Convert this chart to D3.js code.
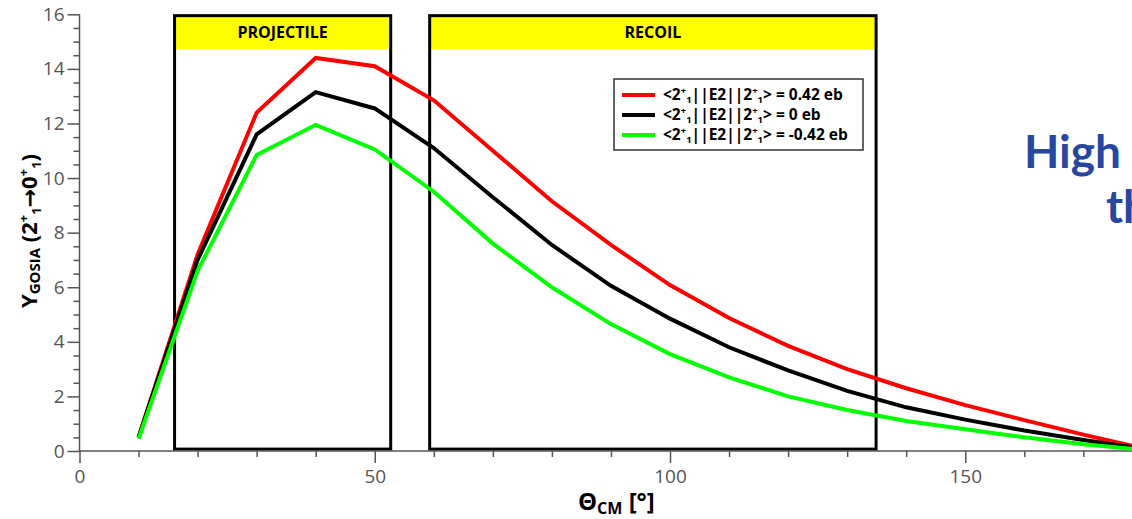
<!DOCTYPE html>
<html>
<head>
<meta charset="utf-8">
<script src="https://cdn.jsdelivr.net/npm/d3@7"></script>
<style>
  html, body { margin: 0; padding: 0; background: #fff; }
  svg { display: block; font-family: "Open Sans", "Noto Sans", sans-serif; }
</style>
</head>
<body>
<svg id="chart" width="1132" height="519"></svg>
<script>
// Scattering angle in the centre-of-mass frame (degrees)
const theta = [10, 20, 30, 40, 50, 60, 70, 80, 90, 100, 110, 120, 130, 140, 150, 160, 170, 180];

// GOSIA yields for the 2+1 -> 0+1 transition, one series per diagonal matrix element
const yieldPlus  = [0.5, 7.2, 12.4, 14.4, 14.1, 12.85, 11.0, 9.15, 7.55, 6.08, 4.87, 3.85, 3.0, 2.3, 1.68, 1.13, 0.6, 0.1];
const yieldZero  = [0.5, 7.0, 11.6, 13.15, 12.55, 11.1, 9.3, 7.55, 6.05, 4.85, 3.8, 2.95, 2.2, 1.6, 1.15, 0.75, 0.4, 0.08];
const yieldMinus = [0.45, 6.6, 10.85, 11.95, 11.05, 9.5, 7.6, 6.0, 4.65, 3.55, 2.7, 2.0, 1.5, 1.1, 0.8, 0.5, 0.25, 0.05];

const seriesLabels = ["0.42 eb", "0 eb", "-0.42 eb"];
const seriesColors = ["#ff0000", "#000000", "#00ff00"];

// Angular windows where the projectile / recoil is detected
const regionNames = ["PROJECTILE", "RECOIL"];
const regionFrom  = [16.1, 59.3];
const regionTo    = [52.7, 134.9];

const xTicks = [0, 50, 100, 150];
const yTicks = [0, 2, 4, 6, 8, 10, 12, 14, 16];

const svg = d3.select("#chart");

const x = d3.scaleLinear().domain([0, 180]).range([79.5, 1142.4]);
const y = d3.scaleLinear().domain([0, 16]).range([451, 14.3]);

const axisGrey = "#555";

// Region boxes with yellow title bands
const regionTop = 15.95, bandBottom = 14.72, regionBottom = 0.07;
regionNames.forEach((name, i) => {
  const x0 = x(regionFrom[i]), x1 = x(regionTo[i]);
  svg.append("rect")
    .attr("x", x0).attr("y", y(regionTop))
    .attr("width", x1 - x0).attr("height", y(bandBottom) - y(regionTop))
    .attr("fill", "#ffff00");
  svg.append("rect")
    .attr("x", x0).attr("y", y(regionTop))
    .attr("width", x1 - x0).attr("height", y(regionBottom) - y(regionTop))
    .attr("fill", "none").attr("stroke", "#000").attr("stroke-width", 3);
  svg.append("text")
    .attr("x", (x0 + x1) / 2).attr("y", (y(regionTop) + y(bandBottom)) / 2 + 6)
    .attr("text-anchor", "middle")
    .attr("font-size", 16).attr("font-weight", "bold")
    .text(name);
});

// Axes
const xAxis = svg.append("g").attr("transform", `translate(0,${y(0)})`)
  .call(d3.axisBottom(x).tickValues(xTicks).tickFormat(d3.format("d")).tickSize(12).tickPadding(7));
const xMinor = svg.append("g").attr("transform", `translate(0,${y(0)})`)
  .call(d3.axisBottom(x).tickValues(d3.range(10, 180, 10).filter(v => v % 50 !== 0)).tickSize(6).tickFormat(""));
const yAxis = svg.append("g").attr("transform", `translate(${x(0)},0)`)
  .call(d3.axisLeft(y).tickValues(yTicks).tickFormat(d3.format("d")).tickSize(12).tickPadding(3));
const yMinor = svg.append("g").attr("transform", `translate(${x(0)},0)`)
  .call(d3.axisLeft(y).tickValues(d3.range(0.5, 16, 0.5).filter(v => v % 2 !== 0)).tickSize(6).tickFormat(""));

[xAxis, xMinor, yAxis, yMinor].forEach(g => {
  g.select(".domain").attr("stroke", axisGrey).attr("stroke-width", 1.5);
  g.selectAll(".tick line").attr("stroke", axisGrey).attr("stroke-width", 1.5);
  g.selectAll(".tick text").attr("fill", axisGrey).attr("font-size", 19)
    .attr("font-family", "'Open Sans', 'Noto Sans', sans-serif");
});
xMinor.select(".domain").remove();
yMinor.select(".domain").remove();
xAxis.select(".domain").attr("d", `M${x(0)},0H${x(180)}`);
yAxis.select(".domain").attr("d", `M0,${y(16)}V${y(0)}`);
xAxis.selectAll(".tick line").attr("y1", 0);
yAxis.selectAll(".tick line").attr("x1", 0);

// Yield curves
const line = d3.line().x((d, i) => x(theta[i])).y(d => y(d));
[yieldPlus, yieldZero, yieldMinus].forEach((vals, i) => {
  svg.append("path")
    .datum(vals)
    .attr("d", line)
    .attr("fill", "none")
    .attr("stroke", seriesColors[i])
    .attr("stroke-width", 4)
    .attr("stroke-linejoin", "miter");
});

// Legend
const legend = svg.append("g");
legend.append("rect")
  .attr("x", 614).attr("y", 79).attr("width", 249).attr("height", 71)
  .attr("fill", "#fff").attr("stroke", "#333").attr("stroke-width", 1.5);
seriesLabels.forEach((lab, i) => {
  const cy = 95 + i * 20;
  legend.append("line")
    .attr("x1", 622).attr("x2", 655).attr("y1", cy).attr("y2", cy)
    .attr("stroke", seriesColors[i]).attr("stroke-width", 4);
  const t = legend.append("text")
    .attr("x", 663).attr("y", cy + 5)
    .attr("font-size", 15.5).attr("font-weight", "bold");
  t.append("tspan").text("<2");
  t.append("tspan").attr("font-size", 9.5).attr("dy", -6).text("+");
  t.append("tspan").attr("font-size", 9.5).attr("dy", 9).text("1");
  t.append("tspan").attr("dy", -3).text("||E2||2");
  t.append("tspan").attr("font-size", 9.5).attr("dy", -6).text("+");
  t.append("tspan").attr("font-size", 9.5).attr("dy", 9).text("1");
  t.append("tspan").attr("dy", -3).text("> = " + lab);
});

// Axis titles
const xt = svg.append("text")
  .attr("x", 578).attr("y", 510)
  .attr("font-size", 24).attr("font-weight", "bold");
xt.append("tspan").text("Θ");
xt.append("tspan").attr("font-size", 16).attr("dy", 4).text("CM");
xt.append("tspan").attr("dy", -4).text(" [°]");

const yt = svg.append("text")
  .attr("transform", "translate(37,231) rotate(-90)")
  .attr("text-anchor", "middle")
  .attr("font-size", 22).attr("font-weight", "bold");
yt.append("tspan").text("Y");
yt.append("tspan").attr("font-size", 15).attr("dy", 3).text("GOSIA");
yt.append("tspan").attr("dy", -3).text(" (2");
yt.append("tspan").attr("font-size", 13).attr("dy", -9).text("+");
yt.append("tspan").attr("font-size", 13).attr("dy", 13).text("1");
yt.append("tspan").attr("dy", -4).attr("font-family", "'DejaVu Sans', sans-serif").text("→");
yt.append("tspan").text("0");
yt.append("tspan").attr("font-size", 13).attr("dy", -9).text("+");
yt.append("tspan").attr("font-size", 13).attr("dy", 13).text("1");
yt.append("tspan").attr("dy", -4).text(")");

// Slide heading partly visible at the right edge
svg.append("text")
  .attr("x", 1024).attr("y", 168)
  .attr("font-size", 46).attr("font-weight", "bold")
  .attr("fill", "#2747a0")
  .attr("font-family", "'Lato', 'Noto Sans', sans-serif")
  .text("High");
svg.append("text")
  .attr("x", 1106).attr("y", 223)
  .attr("font-size", 46).attr("font-weight", "bold")
  .attr("fill", "#2747a0")
  .attr("font-family", "'Lato', 'Noto Sans', sans-serif")
  .text("th");
</script>
</body>
</html>
